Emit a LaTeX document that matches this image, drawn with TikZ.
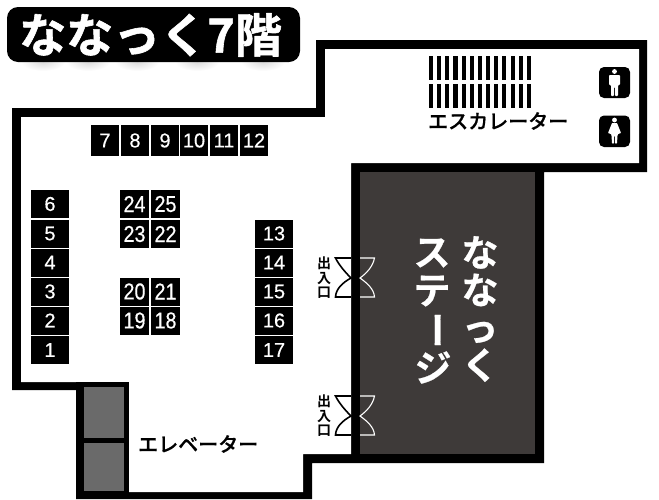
\documentclass[tikz,border=0pt]{standalone}
\usepackage{fontspec}
\setmainfont[FakeBold=0.35]{Liberation Sans}
\newfontfamily\talldigits[FakeBold=0.35,FakeStretch=0.86]{Liberation Sans}
\newfontfamily\jpbold{Noto Sans CJK JP Bold}
\newfontfamily\jpmed[FakeBold=0.6]{Noto Sans CJK JP Medium}
\newfontfamily\jpthick[FakeBold=1.2]{Noto Sans CJK JP Bold}
\newfontfamily\jpstage[FakeBold=0.6]{Noto Sans CJK JP Bold}
\definecolor{stagegray}{HTML}{3E3A39}
\definecolor{liftgray}{HTML}{6A6A6A}
\tikzset{
  x=1pt,y=-1pt,
  booth/.style={fill=black,text=white,inner sep=0pt,minimum width=28.5pt,minimum height=28pt,font=\fontsize{20}{20}\selectfont},
  widebooth/.style={booth,minimum width=38pt},
  tallbooth/.style={booth,font=\talldigits\fontsize{23}{23}\selectfont},
  kana/.style={inner sep=0pt,font=\jpmed\fontsize{20}{20}\selectfont},
  doorleaf/.style={draw=black,line width=1.6pt,line join=miter},
  doorwhite/.style={draw=white,line width=1.1pt},
  doorlabel/.style={inner sep=0pt,align=center,font=\jpbold\fontsize{14}{14.5}\selectfont},
  stagetext/.style={inner sep=0pt,text=white,align=center,font=\jpstage\fontsize{37}{37.5}\selectfont},
}
\begin{document}
\begin{tikzpicture}
\useasboundingbox (0,0) rectangle (659,499);
% title shadow
\foreach \cx in {43,88,137,197,263}
  \shade[inner color=black!14,outer color=white] (\cx,62) ellipse [x radius=22,y radius=9];
\fill[rounded corners=11pt] (7,7) rectangle (300,62);
\node[inner sep=0pt,text=white,anchor=west,font=\jpthick\fontsize{47}{47}\selectfont] (title) at (19,35) {\special{pdf:code 1 j 1 J}ななっく7階};
% walls
\fill (12,108) -- (316,108) -- (316,40) -- (647,40) -- (647,172) -- (544,172) -- (544,463) -- (312,463) -- (312,499) -- (76,499) -- (76,390) -- (12,390) -- cycle;
\fill[white] (21,117) -- (325,117) -- (325,49) -- (639,49) -- (639,163) -- (351,163) -- (351,454) -- (303,454) -- (303,492) -- (129,492) -- (129,382) -- (21,382) -- cycle;
\fill[black] (76,382) rectangle (129,499);
\fill[stagegray] (360,172) rectangle (535,454);
\fill[liftgray] (84,387) rectangle (124,438);
\fill[liftgray] (84,443) rectangle (124,491);
% booths
\foreach \n/\cx in {7/105,8/135,9/165,10/194,11/224,12/254}
  \node[booth,minimum height=31pt] (b\n) at (\cx,140.5) {\n};
\foreach \n/\cy in {6/204,5/233.5,4/262.5,3/291.5,2/320.5,1/350}
  \node[widebooth] (b\n) at (50,\cy) {\n};
\foreach \n/\cy in {13/233.5,14/262.5,15/291.5,16/320.5,17/350}
  \node[widebooth] (b\n) at (274,\cy) {\n};
\foreach \n/\cx/\cy in {24/134.5/204,25/165.5/204,23/134.5/234,22/165.5/234,20/134.5/291.5,21/165.5/291.5,19/134.5/320.5,18/165.5/320.5}
  \node[tallbooth] (b\n) at (\cx,\cy) {\n};
% escalator
\foreach \i in {0,...,12} {
  \fill (429+\i*8.15,56) rectangle +(4.1,24);
  \fill (429+\i*8.15,84) rectangle +(4.1,24);
}
\node[kana,anchor=west] (esc) at (428,121) {エスカレーター};
\node[kana,anchor=west] (lift) at (138,444) {エレベーター};
% rest rooms
\fill[rounded corners=5pt] (599,67) rectangle (630,98);
\fill[rounded corners=5pt] (599,115.5) rectangle (630,147);
\fill[white] (614.5,71.5) circle (2.4);
\fill[white,rounded corners=0.8pt] (609,75) -- (620,75) -- (620,85) -- (618,85) -- (618,96) -- (615,96) -- (615,87) -- (614,87) -- (614,96) -- (611,96) -- (611,85) -- (609,85) -- cycle;
\fill[white] (614.5,120) circle (2.4);
\fill[white,rounded corners=0.6pt] (612,123) -- (617,123) -- (621,133) -- (618,134) -- (617.5,135.5) -- (617,143.5) -- (615,143.5) -- (615,136) -- (614,136) -- (614,143.5) -- (612,143.5) -- (611.5,135.5) -- (611,134) -- (608,133) -- cycle;
% doors
\foreach \dy/\nm in {0/a,138/b} {
  \begin{scope}[yshift=-\dy pt]
    \draw[doorleaf] (351,258) -- (335.5,258) .. controls (339,265) and (345,272) .. (351,278) .. controls (342,283) and (336,289) .. (335.5,297) -- (351,297);
    \draw[doorwhite] (360,258) -- (374.5,258) .. controls (373,266) and (367,273) .. (360,278) .. controls (367,283) and (374,289) .. (374.5,297) -- (360,297);
  \end{scope}
}
\node[doorlabel] (d1) at (324,278) {出\\入\\口};
\node[doorlabel] (d2) at (324,416) {出\\入\\口};
% stage
\node[stagetext] (st1) at (480,309) {な\\な\\っ\\く};
\node[stagetext] (st2a) at (432,253) {ス};
\node[stagetext] (st2b) at (432,291) {テ};
\node[stagetext,rotate=-90] (st2c) at (432,330) {ー};
\node[stagetext] (st2d) at (433,367.5) {ジ};
\end{tikzpicture}
\end{document}
